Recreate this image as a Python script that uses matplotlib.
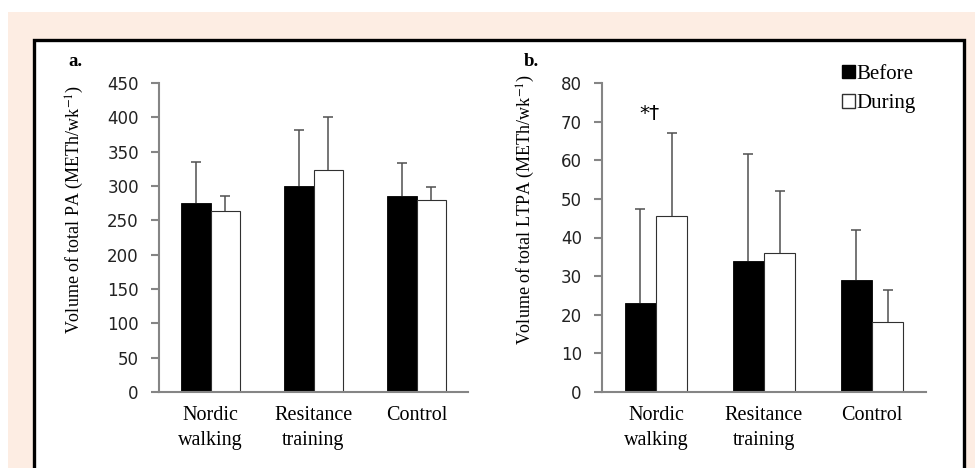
import matplotlib.pyplot as plt
from matplotlib.patches import Rectangle, Patch
import numpy as np

plt.rcParams['font.family'] = 'Liberation Serif'
plt.rcParams['mathtext.fontset'] = 'stix'

# data
groups = ['Nordic\nwalking', 'Resitance\ntraining', 'Control']
pa_before = [275, 300, 285]
pa_before_top = [335, 381, 333]
pa_during = [263, 324, 280]
pa_during_top = [286, 401, 299]

ltpa_before = [23, 34, 29]
ltpa_before_top = [47.5, 61.5, 42]
ltpa_during = [45.5, 36, 18]
ltpa_during_top = [67, 52, 26.5]

W, H = 975, 468
fig = plt.figure(figsize=(W / 100, H / 100), dpi=100)
fig.patch.set_facecolor('white')

# peach page and black framed box
fig.patches.append(Rectangle((8 / W, 0), 1, 1 - 12 / H, transform=fig.transFigure,
                             facecolor='#fdede3', edgecolor='none', zorder=-3))
fig.patches.append(Rectangle((34 / W, -0.1), (964 - 34) / W, 0.1 + (H - 40) / H,
                             transform=fig.transFigure, facecolor='white',
                             edgecolor='black', linewidth=2.4, zorder=-2))

axis_col = '#858585'
err_col = '#505050'
bw = 0.29


def up_err(ax, x, vals, tops):
    c = ax.errorbar(x, vals, yerr=[np.zeros(len(vals)), np.array(tops) - vals], fmt='none',
                    ecolor=err_col, elinewidth=1.1, capsize=3.8, capthick=1.1, zorder=3)
    c[1][0].set_visible(False)  # only the upper cap


def panel(rect, before, before_top, during, during_top, ymax, step, ylabel, lab_x):
    ax = fig.add_axes(rect)
    ax.patch.set_alpha(0)
    x = np.arange(len(groups))
    b = np.array(before)
    d = np.array(during)
    ax.bar(x - bw / 2, b, bw, color='black', edgecolor='black', linewidth=0.6, zorder=2)
    ax.bar(x + bw / 2, d, bw, color='white', edgecolor='#303030', linewidth=0.8, zorder=2)
    up_err(ax, x - bw / 2, b, before_top)
    up_err(ax, x + bw / 2, d, during_top)
    ax.set_xlim(-0.5, 2.5)
    ax.set_ylim(0, ymax)
    ax.set_yticks(np.arange(0, ymax + 1, step))
    ax.set_xticks(x)
    ax.set_xticklabels(groups, fontsize=14.5, linespacing=1.45)
    for s in ['top', 'right']:
        ax.spines[s].set_visible(False)
    for s in ['left', 'bottom']:
        ax.spines[s].set_color(axis_col)
        ax.spines[s].set_linewidth(1.5)
    ax.tick_params(axis='y', length=5.5, width=1.5, color=axis_col, pad=9)
    ax.tick_params(axis='x', length=0, pad=10)
    for t in ax.get_yticklabels():
        t.set_family('DejaVu Sans')
        t.set_fontsize(12)
        t.set_color('#222222')
    ax.set_ylabel(ylabel, fontsize=13)
    ax.yaxis.set_label_coords(lab_x, 0.59)
    return ax


ax1 = panel([159 / W, 76 / H, 309 / W, 309 / H], pa_before, pa_before_top, pa_during,
            pa_during_top, 450, 50, 'Volume of total PA (METh/wk$^{-1}$)', -0.235)
ax2 = panel([602 / W, 76 / H, 324 / W, 309 / H], ltpa_before, ltpa_before_top, ltpa_during,
            ltpa_during_top, 80, 10, 'Volume of total LTPA (METh/wk$^{-1}$)', -0.2)

fig.text(68 / W, 1 - 66 / H, 'a.', fontsize=13.5, fontweight='bold', va='baseline')
fig.text(524 / W, 1 - 66 / H, 'b.', fontsize=13.5, fontweight='bold', va='baseline')

ax2.text(-0.06, 72, '*\u2020', fontsize=14.5, ha='center', va='center',
         family=['DejaVu Sans'])

ax2.legend(handles=[Patch(facecolor='black', edgecolor='black'),
                    Patch(facecolor='white', edgecolor='#303030')],
           labels=['Before', 'During'], loc='upper left',
           bbox_to_anchor=(842 / W, 1 - 65 / H), bbox_transform=fig.transFigure,
           frameon=False, fontsize=15, handlelength=0.6, handleheight=0.6,
           handletextpad=0.1, labelspacing=0.5, borderpad=0, borderaxespad=0)

fig.savefig('out.png', dpi=100)
